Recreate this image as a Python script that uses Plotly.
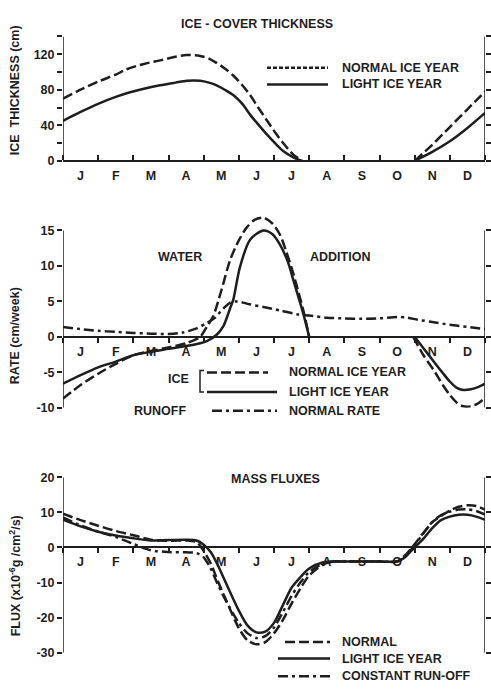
import plotly.graph_objects as go

W, H = 491, 693
INK = "#1e1e1e"
FONT = "Liberation Sans"

# ---------------- data ----------------
month_labels = ["J", "F", "M", "A", "M", "J", "J", "A", "S", "O", "N", "D"]
month_centers = [i + 0.5 for i in range(12)]
month_bounds = list(range(13))

# Ice-cover thickness (cm)
ice_month = [0, 0.5, 1.05, 1.5, 1.81, 2.3, 2.76, 3.2, 3.52, 3.9, 4.15, 4.37, 4.6, 4.84,
             5.1, 5.32, 5.55, 5.79, 6.05, 6.26, 6.55, 6.8, None, 10.0, 10.5, 11.0, 11.5, 12.0]
ice_normal = [70, 80, 90, 97, 103, 109, 113, 117, 119, 118, 115, 110, 104, 96,
              85, 74, 60, 46, 31, 20, 7, 0, None, 0, 18, 38, 58, 78]
ice_light = [45, 55, 65, 72, 76, 81, 85, 88, 90, 90, 88, 85, 80, 74,
             64, 52, 41, 30, 19, 11, 4, 0, None, 0, 10, 22, 37, 54]

# Water addition rate (cm/week)
rate_month_normal = [0, 0.5, 1, 1.5, 2, 2.5, 3, 3.5, 3.9, 4.1, 4.27, 4.5, 4.75, 5.0, 5.22,
                     5.45, 5.7, 5.95, 6.17, 6.35, 6.55, 6.7, 6.83, 7.0, None,
                     9.96, 10.25, 10.53, 10.8, 11.0, 11.2, 11.38, 11.6, 11.8, 12.0]
rate_normal = [-8.7, -6.8, -5.2, -3.8, -2.6, -2.0, -1.5, -0.9, 0.0, 1.5, 2.9, 6.5, 10.8, 13.6, 15.4,
               16.5, 16.8, 16.0, 14.4, 12.0, 8.9, 6.2, 3.8, 0.0, None,
               0.0, -2.6, -4.6, -6.8, -8.2, -9.3, -9.8, -9.8, -9.4, -8.6]
rate_month_light = [0, 0.5, 1, 1.5, 2, 2.5, 3, 3.5, 3.9, 4.09, 4.37, 4.56, 4.75, 4.84, 5.03,
                    5.32, 5.7, 5.95, 6.17, 6.4, 6.55, 6.83, 7.0, None,
                    10.0, 10.25, 10.53, 10.8, 11.0, 11.2, 11.38, 11.6, 11.8, 12.0]
rate_light = [-6.6, -5.4, -4.3, -3.5, -2.6, -2.1, -1.7, -1.3, -0.9, -0.6, 0.3, 1.5, 4.0, 5.2, 9.8,
              13.7, 15.0, 14.5, 13.0, 10.5, 8.0, 3.3, 0.0, None,
              0.0, -1.6, -3.4, -5.1, -6.3, -7.2, -7.5, -7.4, -7.1, -6.6]
rate_month_runoff = [0, 0.5, 1, 1.5, 2, 2.5, 3, 3.4, 3.8, 4.1, 4.3, 4.56, 4.75, 4.94, 5.3, 5.7,
                     6.2, 6.64, 7.0, 7.5, 8, 8.5, 9, 9.5, 9.8, 10.1, 10.5, 11, 11.5, 12]
rate_runoff = [1.4, 1.1, 0.85, 0.7, 0.55, 0.45, 0.4, 0.6, 1.2, 2.0, 2.6, 4.0, 4.8, 5.0, 4.6, 4.2,
               3.7, 3.2, 3.0, 2.7, 2.6, 2.55, 2.6, 2.8, 2.7, 2.4, 2.1, 1.7, 1.4, 1.1]

# Mass fluxes (x10^-6 g/cm2/s)
flux_month = [0, 0.5, 1, 1.5, 2, 2.5, 3, 3.5, 3.8, 4.0, 4.2, 4.4, 4.65, 5.0, 5.25, 5.5, 5.75,
              6.0, 6.25, 6.5, 6.75, 7.0, 7.4, 7.7, 8, 8.5, 9, 9.5, 9.7, 9.9, 10.25, 10.5,
              10.75, 11, 11.25, 11.5, 11.75, 12]
flux_normal = [9.6, 7.8, 6.2, 4.7, 3.5, 2.2, 1.9, 2.0, 1.5, -1.0, -4.5, -9.5, -15.3, -23, -26.5,
               -27.6, -27, -24.5, -20.7, -16, -11.7, -8, -4.8, -4, -4, -4, -4, -4, -2.5, -0.3,
               4.2, 7.2, 9.0, 10.5, 11.6, 12.0, 11.8, 10.8]
flux_light = [7.9, 6.0, 4.5, 3.4, 2.6, 2.0, 2.1, 2.2, 2.0, 0.8, -1.3, -5, -10.5, -18, -22.3,
              -24.2, -24, -21.5, -16.5, -11.5, -8.5, -6, -4.2, -4, -4, -4, -4, -4, -3, -1,
              2.5, 5.5, 7.8, 8.8, 9.3, 9.3, 8.8, 7.9]
flux_const = [8.6, 6.3, 4.5, 3.0, 1.0, -0.8, -1.3, -1.4, -1.6, -2.8, -6, -10.5, -15.5, -21.5, -24.5,
              -25.8, -25.3, -22.8, -18.5, -13.8, -10, -7, -4.6, -4, -4, -4, -4, -4, -2.8, -0.6,
              4, 7.2, 9.2, 10.2, 10.8, 10.9, 10.4, 9.4]

# ---------------- layout geometry ----------------
def px(x):
    return x / W


def py(y):
    return 1 - y / H


XD = [px(63), px(485)]
# "ax" = extent of the drawn axis lines; "rng" = plotting range (room above for the peak)
panels = {
    1: dict(dom=[py(157), py(30)], rng=[0, 140], ax=[0, 140],
            tv=[0, 40, 80, 120], tt=["0", "40", "80", "120"], mv=[20, 60, 100, 140],
            xt="inside"),
    2: dict(dom=[py(409), py(210)], rng=[-10, 17.5], ax=[-10, 15],
            tv=[-10, -5, 0, 5, 10, 15], tt=["-10", "-5", "0", "5", "10", "15"], mv=[],
            xt="outside"),
    3: dict(dom=[py(659), py(480)], rng=[-30, 20], ax=[-30, 20],
            tv=[-30, -20, -10, 0, 10, 20], tt=["-30", "-20", "-10", "0", "10", "20"], mv=[],
            xt="outside"),
}

DASH = "10px,4px"
DASHDOT = "10px,4px,3px,4px"
LW = 2.5
FS = 12.5

fig = go.Figure()


def add(xs, ys, n, dash):
    fig.add_trace(go.Scatter(
        x=xs, y=ys, mode="lines", xaxis=f"x{n}", yaxis=f"y{n}",
        line=dict(color=INK, width=LW, dash=dash, shape="spline", smoothing=0.8),
        connectgaps=False, showlegend=False, hoverinfo="skip"))


add(ice_month, ice_normal, 1, DASH)
add(ice_month, ice_light, 1, "solid")
add(rate_month_runoff, rate_runoff, 2, DASHDOT)
add(rate_month_normal, rate_normal, 2, DASH)
add(rate_month_light, rate_light, 2, "solid")
add(flux_month, flux_const, 3, DASHDOT)
add(flux_month, flux_normal, 3, DASH)
add(flux_month, flux_light, 3, "solid")

tickfont = dict(family=FONT, size=FS, color=INK, weight="bold")
lay = {}
shapes = []
for n, p in panels.items():
    xs = "" if n == 1 else str(n)
    d0, d1 = p["dom"]
    r0, r1 = p["rng"]
    zero_pos = d0 + (0 - r0) / (r1 - r0) * (d1 - d0)
    lay[f"xaxis{xs}"] = dict(
        domain=XD, range=[0, 12], anchor="free", position=zero_pos,
        showline=True, linecolor=INK, linewidth=1.5, showgrid=False, zeroline=False,
        tickmode="array", tickvals=month_centers, ticktext=month_labels, ticks="",
        tickfont=tickfont, ticklabelstandoff=3,
        minor=dict(tickmode="array", tickvals=month_bounds, ticks=p["xt"], ticklen=5,
                   tickwidth=1.5, tickcolor=INK, showgrid=False),
        fixedrange=True)
    ydict = dict(
        domain=p["dom"], range=p["rng"], anchor=f"x{xs}",
        showline=False, mirror="ticks",
        showgrid=False, zeroline=False,
        tickmode="array", tickvals=p["tv"], ticktext=p["tt"],
        ticks="outside", ticklen=5, tickwidth=1.5, tickcolor=INK,
        tickfont=tickfont, fixedrange=True)
    if p["mv"]:
        ydict["minor"] = dict(tickmode="array", tickvals=p["mv"], ticks="outside", ticklen=5,
                              tickwidth=1.5, tickcolor=INK, showgrid=False)
    lay[f"yaxis{xs}"] = ydict
    # vertical axis lines, left and right, spanning only the labelled extent
    for xv in (0, 12):
        shapes.append(dict(type="line", xref=f"x{n}", yref=f"y{n}", x0=xv, x1=xv,
                           y0=p["ax"][0], y1=p["ax"][1], layer="above",
                           line=dict(color=INK, width=1.5)))

fig.update_layout(**lay)

ann = []


def text(x, y, s, anchor="left", size=FS, angle=0):
    ann.append(dict(x=px(x), y=py(y), xref="paper", yref="paper", text=s, showarrow=False,
                    xanchor=anchor, yanchor="middle", textangle=angle,
                    font=dict(family=FONT, size=size, color=INK, weight="bold")))


def key(x0, x1, y, dash):
    shapes.append(dict(type="line", xref="paper", yref="paper", x0=px(x0), x1=px(x1),
                       y0=py(y), y1=py(y), line=dict(color=INK, width=LW, dash=dash)))


# titles
text(257, 17, "ICE - COVER THICKNESS", anchor="center")
text(180, 255, "WATER", anchor="center")
text(340, 255, "ADDITION", anchor="center")
text(275, 482, "MASS FLUXES", anchor="center")

# y-axis titles
text(15, 85, "ICE  THICKNESS (cm)", anchor="center", angle=-90)
text(15, 336, "RATE (cm/week)", anchor="center", angle=-90)
text(15, 581, "FLUX (x10<sup>-6</sup>g /cm<sup>2</sup>/s)", anchor="center", angle=-90)

# top legend
key(267, 328, 62, "4px,2px")
text(340, 62, "NORMAL ICE YEAR")
key(267, 328, 79, "solid")
text(340, 79, "LIGHT ICE YEAR")

# middle legend
text(191, 380, "ICE", anchor="right")
shapes.append(dict(type="path", xref="paper", yref="paper",
                   path=f"M {px(204)},{py(371)} L {px(200)},{py(371)} L {px(200)},{py(393)} L {px(204)},{py(393)}",
                   line=dict(color=INK, width=1.5)))
key(207, 268, 373, DASH)
text(287, 373, "NORMAL ICE YEAR")
key(207, 277, 393, "solid")
text(287, 393, "LIGHT ICE YEAR")
text(188, 412, "RUNOFF", anchor="right")
key(212, 277, 412, DASHDOT)
text(287, 412, "NORMAL RATE")

# bottom legend
key(285, 330, 648, DASH)
text(340, 648, "NORMAL")
key(278, 330, 665, "solid")
text(340, 665, "LIGHT ICE YEAR")
key(278, 330, 683, DASHDOT)
text(340, 683, "CONSTANT RUN-OFF")

fig.update_layout(
    width=W, height=H, margin=dict(l=0, r=0, t=0, b=0),
    paper_bgcolor="white", plot_bgcolor="white",
    annotations=ann, shapes=shapes, showlegend=False,
)

fig.write_html("out.html", config={"displayModeBar": False})
